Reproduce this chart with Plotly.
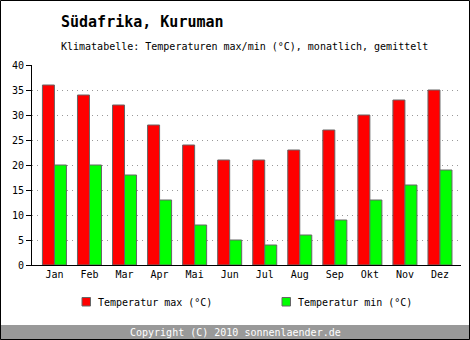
import plotly.graph_objects as go

months = ["Jan", "Feb", "Mar", "Apr", "Mai", "Jun", "Jul", "Aug", "Sep", "Okt", "Nov", "Dez"]
t_max = [36, 34, 32, 28, 24, 21, 21, 23, 27, 30, 33, 35]
t_min = [20, 20, 18, 13, 8, 5, 4, 6, 9, 13, 16, 19]
y_ticks = [0, 5, 10, 15, 20, 25, 30, 35, 40]

FONT = "DejaVu Sans Mono"
W, H = 470, 340
L, R, T, B = 32, 9, 65, 75
PW, PH = W - L - R, H - T - B


def px(x):
    return (x - L) / PW


def py(y):
    return (H - B - y) / PH


fig = go.Figure()
fig.add_bar(x=list(range(12)), y=t_max, name="Temperatur max (°C)",
            marker=dict(color="#ff0000", line=dict(color="#666666", width=1)))
fig.add_bar(x=list(range(12)), y=t_min, name="Temperatur min (°C)",
            marker=dict(color="#00ff00", line=dict(color="#666666", width=1)))

shapes = [
    # footer
    dict(type="rect", xref="paper", yref="paper", x0=px(0), x1=px(W), y0=py(325), y1=py(H),
         fillcolor="#999999", line=dict(width=0), layer="below"),
    # frame
    dict(type="rect", xref="paper", yref="paper", x0=px(0.5), x1=px(W - 0.5), y0=py(0.5), y1=py(H - 0.5),
         line=dict(color="#000000", width=1)),
    # legend swatches
    dict(type="rect", xref="paper", yref="paper", x0=px(82), x1=px(90.5), y0=py(297.5), y1=py(306),
         fillcolor="#ff0000", line=dict(color="#666666", width=1)),
    dict(type="rect", xref="paper", yref="paper", x0=px(282), x1=px(290.5), y0=py(297.5), y1=py(306),
         fillcolor="#00ff00", line=dict(color="#666666", width=1)),
]

annotations = [
    dict(text="<b>Südafrika, Kuruman</b>", x=px(59), y=py(22), xref="paper", yref="paper",
         xanchor="left", yanchor="middle", showarrow=False, font=dict(family=FONT, size=15, color="#000")),
    dict(text="Klimatabelle: Temperaturen max/min (°C), monatlich, gemittelt", x=px(59), y=py(47),
         xref="paper", yref="paper", xanchor="left", yanchor="middle", showarrow=False,
         font=dict(family=FONT, size=10, color="#000")),
    dict(text="Temperatur max (°C)", x=px(96), y=py(302), xref="paper", yref="paper",
         xanchor="left", yanchor="middle", showarrow=False, font=dict(family=FONT, size=10, color="#000")),
    dict(text="Temperatur min (°C)", x=px(296), y=py(302), xref="paper", yref="paper",
         xanchor="left", yanchor="middle", showarrow=False, font=dict(family=FONT, size=10, color="#000")),
    dict(text="Copyright (C) 2010 sonnenlaender.de", x=px(235), y=py(332.5), xref="paper", yref="paper",
         xanchor="center", yanchor="middle", showarrow=False, font=dict(family=FONT, size=10, color="#ffffff")),
]

fig.update_layout(
    width=W, height=H, margin=dict(l=L, r=R, t=T, b=B, pad=0),
    paper_bgcolor="#ffffff", plot_bgcolor="#ffffff",
    barmode="group", bargap=0.315, bargroupgap=0,
    showlegend=False,
    font=dict(family=FONT, size=10, color="#000000"),
    shapes=shapes, annotations=annotations,
    xaxis=dict(range=[-0.64, 11.6], tickmode="array", tickvals=list(range(12)), ticktext=months,
               showline=True, linecolor="#000", linewidth=1, ticks="", showgrid=False,
               zeroline=False, fixedrange=True),
    yaxis=dict(range=[0, 40], tickmode="array", tickvals=y_ticks, ticktext=[str(v) for v in y_ticks],
               showline=True, linecolor="#000", linewidth=1, ticks="outside", ticklen=5,
               tickcolor="#000", showgrid=True, gridcolor="#999999", griddash="1px,4px", gridwidth=1,
               zeroline=False, fixedrange=True),
)

fig.write_html("out.html", config={"displayModeBar": False})
